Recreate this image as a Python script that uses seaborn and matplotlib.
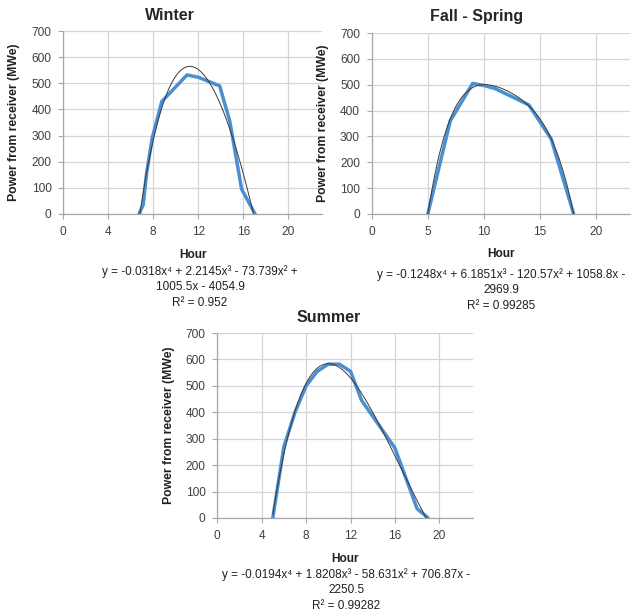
import pandas as pd
import matplotlib
matplotlib.use("Agg")
import matplotlib.pyplot as plt
import seaborn as sns

# ============= data =============
winter_hour = [6.73, 7.1, 7.4, 7.9, 8.75, 11.0, 12.0, 13.9, 14.8, 15.85, 17.05]
winter_mwe = [0, 35, 155, 290, 430, 532, 523, 490, 355, 95, 0]

fall_hour = [5, 7, 9, 10, 11, 14, 16, 18]
fall_mwe = [0, 360, 505, 497, 485, 422, 290, 0]

summer_hour = [5, 6, 7, 8, 9, 10, 11, 12, 13, 14, 15, 16, 17, 18, 19]
summer_mwe = [0, 270, 400, 500, 555, 582, 582, 555, 445, 385, 325, 265, 150, 35, 0]

eq_winter = "y = -0.0318x⁴ + 2.2145x³ - 73.739x² +\n1005.5x - 4054.9\nR² = 0.952"
eq_fall = "y = -0.1248x⁴ + 6.1851x³ - 120.57x² + 1058.8x -\n2969.9\nR² = 0.99285"
eq_summer = "y = -0.0194x⁴ + 1.8208x³ - 58.631x² + 706.87x -\n2250.5\nR² = 0.99282"

BLUE = "#4a8fd2"
GRID = "#d4d4d4"
AXC = "#a8a8a8"
TXT = "#404040"

sns.set_theme(style="whitegrid")
plt.rcParams["font.family"] = ["Liberation Sans", "DejaVu Sans"]

W, H = 638, 614
fig = plt.figure(figsize=(W / 100, H / 100), dpi=100)


def px_axes(left, top, right, bottom):
    return fig.add_axes([left / W, 1 - bottom / H, (right - left) / W, (bottom - top) / H])


def panel(ax, hours, mwe, xticks, eq, eq_x, eq_top):
    df = pd.DataFrame({"Hour": hours, "MWe": mwe})
    sns.lineplot(data=df, x="Hour", y="MWe", ax=ax, color=BLUE, lw=2.5,
                 solid_joinstyle="round", solid_capstyle="round", zorder=3)
    # Excel-style 4th order polynomial trend line
    sns.regplot(data=df, x="Hour", y="MWe", ax=ax, order=4, ci=None, scatter=False,
                truncate=True, line_kws=dict(color="#3a3a3a", lw=0.7, zorder=4))
    ax.set_xlim(0, 23)
    ax.set_ylim(0, 700)
    ax.set_xticks(xticks)
    ax.set_yticks(range(0, 701, 100))
    ax.set_facecolor("white")
    ax.grid(True, color=GRID, lw=0.9)
    for s in ["top", "right"]:
        ax.spines[s].set_visible(False)
    for s in ["left", "bottom"]:
        ax.spines[s].set_color(AXC)
        ax.spines[s].set_linewidth(0.9)
    ax.tick_params(axis="both", which="major", labelsize=8.6, labelcolor=TXT,
                   color=AXC, length=3.5, width=0.8, direction="out",
                   left=True, bottom=True)
    ax.tick_params(axis="y", pad=5)
    ax.tick_params(axis="x", pad=5)
    ax.set_xlabel("Hour", fontsize=8.6, fontweight="bold", color="#202020")
    ax.set_ylabel("Power from receiver (MWe)", fontsize=8.8, fontweight="bold", color="#202020")
    ax.yaxis.set_label_coords(-0.167, 0.5)
    ax.xaxis.set_label_coords(0.5, -0.19)
    fig.text(eq_x / W, 1 - eq_top / H, eq, fontsize=8.5, color="#202020", ha="center",
             va="top", multialignment="center", linespacing=1.38)
    return ax


ax1 = px_axes(63.3, 31, 63.3 + 23 * 11.25, 214)
panel(ax1, winter_hour, winter_mwe, [0, 4, 8, 12, 16, 20], eq_winter, 200, 265)

ax2 = px_axes(371.7, 33, 371.7 + 23 * 11.22, 214)
panel(ax2, fall_hour, fall_mwe, [0, 5, 10, 15, 20], eq_fall, 501, 268)

ax3 = px_axes(217.3, 333, 217.3 + 23 * 11.1, 518)
panel(ax3, summer_hour, summer_mwe, [0, 4, 8, 12, 16, 20], eq_summer, 346, 568)

fig.text(170 / W, 1 - 16 / H, "Winter", fontsize=11.5, fontweight="bold", ha="center", va="center")
fig.text(477 / W, 1 - 17 / H, "Fall - Spring", fontsize=11.5, fontweight="bold", ha="center", va="center")
fig.text(329 / W, 1 - 317 / H, "Summer", fontsize=11.5, fontweight="bold", ha="center", va="center")

fig.savefig("out.png", dpi=100, facecolor="white")
